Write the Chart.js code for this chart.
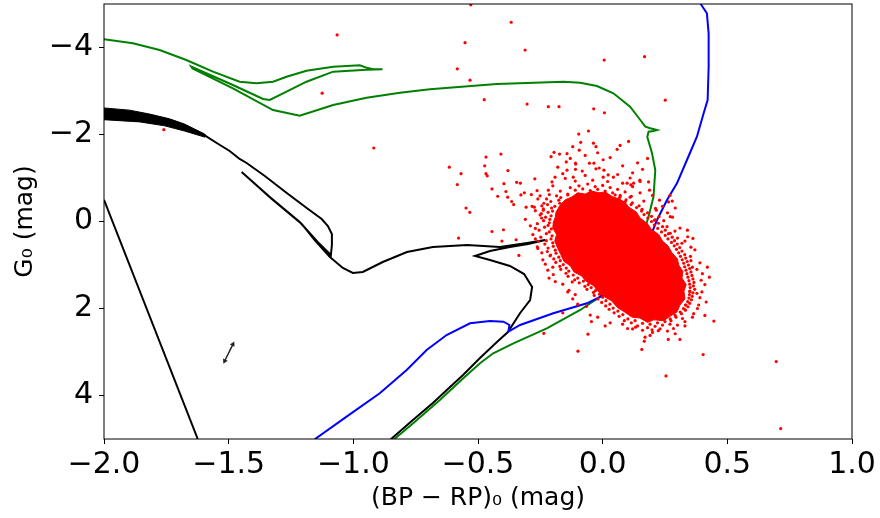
<!DOCTYPE html>
<html><head><meta charset="utf-8">
<script src="https://cdn.jsdelivr.net/npm/chart.js@4/dist/chart.umd.min.js"></script>
<style>html,body{margin:0;padding:0;background:#fff}canvas{display:block}</style>
</head><body>
<canvas id="c" width="880" height="518"></canvas>
<script>
const xTicks = [-2.0, -1.5, -1.0, -0.5, 0.0, 0.5, 1.0];
const yTicks = [-4, -2, 0, 2, 4];

// isolated stars (colour, magnitude)
const outlierStars = [
[-0.529,-4.98],[-0.367,-4.58],[-0.552,-4.11],[-0.311,-3.94],[0.006,-3.71],[0.168,-3.79],[-0.583,-3.51],[-0.532,-3.25],
[-0.475,-2.80],[-0.303,-2.70],[-0.218,-2.64],[-0.175,-2.64],[-0.036,-2.59],[0.007,-2.50],[0.251,-2.79],[-0.096,-2.01],[-0.057,-2.08],
[-1.065,-4.29],[-1.125,-2.95],[-1.760,-2.11],[-0.918,-1.69],
[-0.615,-1.25],[-0.568,-1.10],[-0.583,-0.85],[-0.468,-1.48],[-0.473,-1.28],[-0.468,-1.10],[-0.463,-1.05],[-0.408,-1.55],[-0.380,-1.17],
[-0.396,-0.87],[-0.444,-0.75],[-0.421,-0.58],[-0.388,-0.69],[-0.381,-0.56],[-0.365,-0.46],[-0.357,-0.39],[-0.345,-0.90],[-0.330,-0.88],
[-0.328,-0.61],[-0.314,-0.66],[-0.286,-0.62],[-0.272,-0.98],[-0.263,-0.71],[-0.251,-0.59],[-0.307,-0.33],[-0.274,-0.33],[-0.548,-0.31],
[-0.533,-0.21],[-0.444,0.23],[-0.398,0.19],[-0.578,0.38],[-0.404,0.45],[-0.347,0.42],[-0.336,0.78],[-0.211,0.79],[-0.207,-1.49],
[-0.195,-1.59],[-0.173,-1.55],[-0.143,-1.56],[-0.146,-1.37],[-0.088,-1.82],[-0.094,-1.64],[-0.108,-1.32],[-0.109,-1.20],[-0.218,-0.72],
[-0.214,-0.62],[-0.244,-0.36],[-0.238,-0.26],[-0.251,-0.15],
[-0.037,-1.80],[-0.027,-1.72],[0.104,-1.84],[0.058,-1.66],[0.140,-1.35],[0.002,-1.42],[-0.053,-1.34],[-0.035,-1.34],[-0.027,-1.21],
[0.005,-1.18],[-0.109,-1.34],[0.184,-0.91],[0.149,-0.95],[0.043,-1.02],[0.124,-0.88],[0.113,-0.84],[0.228,-0.49],[0.279,-0.47],
[0.291,-0.31],[0.264,-0.45],[0.212,-0.30],[0.226,-0.11],[0.208,-0.03],[0.271,-0.11],[0.258,0.12],[0.271,0.27],[0.341,0.35],[0.362,0.39],
[-0.143,-1.18],[-0.082,-1.16],[-0.118,-1.02],[-0.014,-1.23],[0.002,-1.02],[0.022,-1.07],[0.098,-0.88],[-0.191,-1.02],[-0.203,-0.91],
[0.354,0.59],[0.354,0.90],[0.428,1.28],[0.378,1.65],[0.410,2.16],[0.446,2.29],[0.403,3.06],[0.310,2.71],[0.263,2.71],[0.170,2.66],
[0.167,2.75],[0.157,2.94],[-0.059,2.59],[-0.099,2.98],[-0.122,1.39],[-0.160,2.10],[0.100,2.46],[0.132,2.43],[0.198,2.49],[0.223,2.51],
[0.284,2.46],[0.291,2.58],[0.331,2.03],[0.320,2.23],[0.332,1.92],[0.318,1.73],[0.349,1.61],[-0.236,2.57],[0.696,3.22],[0.714,4.76],[0.254,3.55],
[-0.18,-1.25],[-0.13,-1.45],[-0.07,-1.52],[-0.02,-1.58],[0.03,-1.47],[0.08,-1.28],[0.12,-1.12],[0.16,-1.20],[-0.16,-1.10],[0.07,-1.75],
[-0.12,-1.72],[0.18,-1.45]
];

// stars around the edge of the dense clump
const clumpStars = [
[-0.140,-0.61],[-0.168,-0.55],[-0.185,-0.59],[-0.176,-0.49],[-0.208,-0.46],[-0.172,-0.42],[-0.221,-0.39],[-0.192,-0.35],[-0.205,-0.31],
[-0.238,-0.29],[-0.201,-0.24],[-0.219,-0.21],[-0.246,-0.18],[-0.207,-0.13],[-0.229,-0.10],[-0.212,-0.05],[-0.237,-0.02],[-0.214,0.03],
[-0.262,0.05],[-0.219,0.09],[-0.233,0.13],[-0.206,0.17],[-0.255,0.20],[-0.214,0.24],[-0.226,0.28],[-0.203,0.33],[-0.248,0.36],
[-0.207,0.40],[-0.226,0.44],[-0.200,0.49],[-0.232,0.52],[-0.198,0.57],[-0.219,0.61],[-0.190,0.66],[-0.222,0.69],[-0.187,0.73],
[-0.209,0.77],[-0.176,0.82],[-0.196,0.86],[-0.170,0.90],[-0.188,0.94],[-0.158,0.99],[-0.172,1.03],[-0.146,1.07],[-0.168,1.10],
[-0.136,1.14],[-0.147,1.19],[-0.118,1.23],[-0.139,1.26],[-0.100,1.30],[-0.112,1.34],[-0.077,1.37],[-0.094,1.41],[-0.058,1.45],
[-0.071,1.49],[-0.046,1.52],[-0.063,1.56],[-0.029,1.59],[-0.037,1.63],[-0.013,1.67],[-0.034,1.70],[0.000,1.74],[-0.019,1.78],
[0.013,1.82],[-0.004,1.86],[0.029,1.90],[0.012,1.94],[0.042,1.99],[0.026,2.02],[0.061,2.06],[0.046,2.10],[0.081,2.14],[0.066,2.18],
[0.101,2.24],[0.087,2.28],
[0.050,-0.61],[0.070,-0.57],[0.066,-0.53],[0.094,-0.50],[0.091,-0.46],[0.119,-0.43],[0.114,-0.39],[0.146,-0.36],[0.136,-0.32],
[0.158,-0.28],[0.156,-0.24],[0.180,-0.20],[0.166,-0.16],[0.196,-0.12],[0.181,-0.08],[0.211,-0.04],[0.196,0.00],[0.224,0.04],
[0.207,0.08],[0.240,0.12],[0.221,0.16],[0.251,0.20],[0.236,0.24],[0.264,0.28],[0.251,0.32],[0.279,0.36],[0.262,0.40],[0.288,0.44],
[0.276,0.48],[0.299,0.52],[0.287,0.56],[0.309,0.60],[0.296,0.64],[0.318,0.68],[0.305,0.72],[0.329,0.76],[0.312,0.80],[0.333,0.84],
[0.319,0.88],[0.339,0.92],[0.325,0.96],[0.344,1.00],[0.329,1.04],[0.349,1.08],[0.334,1.12],[0.354,1.16],[0.338,1.20],[0.358,1.24],
[0.342,1.28],[0.362,1.32],[0.346,1.36],[0.366,1.40],[0.349,1.44],[0.364,1.48],[0.351,1.52],[0.369,1.56],[0.350,1.60],[0.362,1.64],
[0.348,1.68],[0.359,1.72],[0.346,1.76],[0.356,1.80],[0.341,1.84],[0.349,1.88],[0.334,1.92],[0.342,1.96],[0.324,2.00],[0.332,2.04],
[0.311,2.08],[0.316,2.12],[0.291,2.16],[0.294,2.20],[0.271,2.24],[0.274,2.28],
[-0.110,-0.72],[-0.080,-0.75],[-0.050,-0.71],[-0.020,-0.74],[0.010,-0.70],[0.040,-0.66],[0.070,-0.60],[-0.140,-0.63],[-0.095,-0.82],
[-0.060,-0.86],[-0.030,-0.80],[0.000,-0.83],[0.030,-0.78],[0.060,-0.74],[0.090,-0.68],[0.110,-0.56],[-0.130,-0.78],[-0.170,-0.70],
[0.120,-0.80],[0.150,-0.66],[-0.200,-0.82],[-0.110,-0.93],[-0.040,-0.95],[0.020,-0.92],[0.080,-0.88],[0.150,-0.92],[-0.150,-0.99],
[-0.070,-1.06],[0.060,-1.08],[0.110,-1.00],
[0.130,2.28],[0.160,2.34],[0.190,2.36],[0.220,2.33],[0.250,2.30],[0.140,2.40],[0.180,2.44],[0.210,2.41],[0.240,2.38],[0.270,2.36],
[0.115,2.33],[0.160,2.50],[0.230,2.47],[0.200,2.55],[0.120,2.47],[0.260,2.52],[0.300,2.38],[0.080,2.36],[0.190,2.62],
[-0.26,-0.52],[-0.27,-0.25],[-0.29,0.10],[-0.27,0.40],[-0.26,0.62],[-0.24,0.88],[-0.22,1.12],[-0.19,1.38],[-0.14,1.62],[-0.10,1.90],
[-0.05,2.15],[0.01,2.40],[-0.31,-0.05],[-0.28,0.30],[-0.20,1.05],[-0.12,1.78],
[0.20,-0.60],[0.24,-0.35],[0.28,-0.10],[0.31,0.15],[0.33,0.45],[0.37,0.65],[0.39,0.95],[0.40,1.20],[0.41,1.45],[0.39,1.75],
[0.38,2.00],[0.36,2.20],[0.33,2.40],[0.26,-0.20],[0.30,0.38],[0.36,1.05],
[-0.225,-0.52],[-0.245,-0.08],[-0.270,0.16],[-0.258,0.46],[-0.244,0.72],[-0.230,0.98],[-0.198,1.22],[-0.160,1.44],[-0.110,1.68],
[-0.065,1.95],[-0.020,2.20],[-0.236,-0.42],[-0.283,-0.35],[-0.262,0.58],[-0.215,1.30],[-0.135,1.58],[-0.045,2.30],[0.030,2.33],
[0.115,-0.58],[0.165,-0.47],[0.215,-0.26],[0.245,-0.02],[0.290,0.22],[0.318,0.50],[0.352,0.80],[0.378,1.10],[0.395,1.35],
[0.398,1.62],[0.385,1.92],[0.365,2.12],[0.330,2.30],[0.188,-0.72],[0.270,-0.60],[0.340,0.20],[0.420,1.05],[0.415,1.85]
];

// outline of the fully saturated core of the clump
const clumpCore = [
[-0.187,-0.22],[-0.170,-0.38],[-0.150,-0.50],[-0.125,-0.56],[-0.100,-0.66],[-0.070,-0.63],[-0.045,-0.70],[-0.015,-0.66],[0.010,-0.68],
[0.040,-0.57],[0.065,-0.52],[0.090,-0.44],[0.105,-0.33],[0.135,-0.22],[0.150,-0.08],[0.180,0.05],[0.195,0.18],[0.225,0.30],
[0.240,0.45],[0.262,0.56],[0.278,0.72],[0.300,0.86],[0.305,1.00],[0.322,1.15],[0.318,1.30],[0.335,1.45],[0.326,1.60],[0.330,1.78],
[0.310,1.92],[0.298,2.08],[0.270,2.18],[0.245,2.28],[0.205,2.26],[0.180,2.32],[0.150,2.22],[0.118,2.20],[0.085,2.07],[0.060,1.98],
[0.035,1.82],[0.010,1.74],[-0.020,1.60],[-0.035,1.48],[-0.065,1.38],[-0.085,1.25],[-0.115,1.16],[-0.130,1.02],[-0.155,0.92],
[-0.168,0.76],[-0.180,0.62],[-0.192,0.45],[-0.185,0.30],[-0.200,0.15],[-0.198,0.02],[-0.190,-0.10],[-0.187,-0.22]
];

const blackStraight = [[-2.0,-0.50],[-1.624,5.0]];
const blackBand = [[-2.0,-2.61],[-1.898,-2.56],[-1.817,-2.47],[-1.737,-2.36],[-1.677,-2.24],[-1.596,-2.01],[-1.596,-1.94],
[-1.677,-2.08],[-1.757,-2.20],[-1.857,-2.29],[-2.0,-2.34],[-2.0,-2.61]];
const blackTrack = [
[-1.596,-1.98],[-1.548,-1.805],[-1.496,-1.621],[-1.456,-1.437],[-1.428,-1.345],[-1.355,-1.046],[-1.267,-0.655],[-1.187,-0.310],
[-1.127,-0.057],[-1.102,0.103],[-1.086,0.287],[-1.086,0.540],[-1.090,0.770],
[-1.143,0.471],[-1.215,0.011],[-1.335,-0.563],[-1.448,-1.138],
[-1.327,-0.517],[-1.207,0.057],[-1.155,0.425],[-1.094,0.816],[-1.042,1.069],[-1.002,1.184],[-0.962,1.161],[-0.882,0.931],
[-0.785,0.701],[-0.681,0.586],[-0.544,0.540],[-0.412,0.586],[-0.303,0.494],[-0.231,0.425],
[-0.299,0.517],[-0.372,0.586],[-0.452,0.678],[-0.512,0.793],
[-0.452,0.885],[-0.372,1.023],[-0.315,1.207],[-0.283,1.506],[-0.291,1.805],[-0.331,2.103],[-0.380,2.540],[-0.424,2.770],
[-0.492,3.138],[-0.560,3.529],[-0.625,3.874],[-0.681,4.172],[-0.761,4.563],[-0.853,5.023]
];
const greenTrack = [
[-2.000,-4.189],[-1.884,-4.097],[-1.777,-3.943],[-1.670,-3.713],[-1.563,-3.444],[-1.456,-3.214],[-1.389,-3.177],[-1.322,-3.214],
[-1.268,-3.329],[-1.188,-3.467],[-1.081,-3.559],[-0.974,-3.591],[-0.947,-3.536],[-0.920,-3.499],[-0.883,-3.499],
[-0.947,-3.487],[-1.081,-3.444],[-1.188,-3.214],[-1.268,-2.984],[-1.335,-2.793],[-1.362,-2.816],[-1.483,-3.138],[-1.650,-3.559],
[-1.645,-3.517],[-1.483,-3.062],[-1.322,-2.563],[-1.215,-2.432],[-1.081,-2.678],[-0.947,-2.846],[-0.813,-2.961],[-0.693,-3.039],
[-0.425,-3.161],[-0.157,-3.214],[-0.090,-3.191],[-0.023,-3.115],[0.043,-2.947],[0.110,-2.639],[0.151,-2.333],
[0.171,-2.179],[0.191,-2.143],[0.218,-2.103],[0.204,-2.080],[0.184,-2.064],[0.179,-1.943],
[0.198,-1.568],[0.211,-1.184],[0.204,-0.570],[0.184,-0.110],[0.151,0.501],[0.097,1.039],[0.043,1.421],[-0.010,1.729],
[-0.090,2.034],[-0.224,2.455],[-0.358,2.800],[-0.439,3.030],[-0.492,3.260],[-0.559,3.605],[-0.653,4.103],[-0.760,4.639],[-0.840,5.023]
];
const blueTrack = [
[0.388,-5.046],[0.418,-4.786],[0.425,-4.326],[0.425,-3.559],[0.421,-2.793],[0.405,-2.487],[0.378,-1.949],[0.338,-1.414],
[0.298,-0.878],[0.258,-0.494],[0.218,-0.034],[0.191,0.349],[0.137,0.885],[0.070,1.421],[0.017,1.651],[-0.063,1.880],
[-0.198,2.110],[-0.331,2.379],[-0.378,2.533],[-0.374,2.379],[-0.398,2.303],[-0.452,2.287],[-0.532,2.340],[-0.626,2.609],
[-0.706,2.954],[-0.786,3.414],[-0.894,3.949],[-1.027,4.487],[-1.155,5.007]
];
const reddeningArrow = [[-1.516,3.207],[-1.483,2.823]];

const xy = a => a.map(p => ({x: p[0], y: p[1]}));
const minus = s => String(s).replace('-', '\u2212');

const curve = (data, color, extra) => Object.assign({
  data: xy(data), showLine: true, borderColor: color, backgroundColor: color,
  borderWidth: 2, pointRadius: 0, pointHoverRadius: 0, tension: 0, fill: false
}, extra || {});

const framePlugin = {
  id: 'frame',
  afterDatasetsDraw(chart) {
    const {ctx, chartArea: {left, top, right, bottom}} = chart;
    ctx.save();
    ctx.strokeStyle = '#000';
    ctx.lineWidth = 1;
    ctx.strokeRect(left, top, right - left, bottom - top);
    ctx.restore();
  }
};

new Chart(document.getElementById('c'), {
  type: 'scatter',
  data: {
    datasets: [
      {data: xy(outlierStars), backgroundColor: '#ff0000', pointRadius: 1.6, pointBorderWidth: 0, pointHoverRadius: 1.6},
      {data: xy(clumpStars), backgroundColor: '#ff0000', pointRadius: 1.6, pointBorderWidth: 0, pointHoverRadius: 1.6},
      curve(clumpCore, '#ff0000', {fill: 'shape', borderWidth: 1}),
      curve(reddeningArrow, '#222222', {borderWidth: 1.5, pointRadius: 3, pointStyle: 'triangle', pointRotation: [206, 26], pointBackgroundColor: '#222222', pointBorderWidth: 0}),
      curve(blueTrack, '#0000ff'),
      curve(greenTrack, '#008000'),
      curve(blackTrack, '#000000'),
      curve(blackBand, '#000000', {fill: 'shape', borderWidth: 1}),
      curve(blackStraight, '#000000')
    ]
  },
  options: {
    responsive: false,
    animation: false,
    events: [],
    layout: {padding: {left: 0, right: 28, top: 4, bottom: 0}},
    plugins: {legend: {display: false}, tooltip: {enabled: false}},
    scales: {
      x: {
        type: 'linear', min: -2, max: 1,
        afterBuildTicks: axis => { axis.ticks = xTicks.map(v => ({value: v})); },
        afterFit: axis => { axis.height = 79; axis.paddingLeft = 0; axis.paddingRight = 0; },
        ticks: {color: '#000', font: {family: 'DejaVu Sans', size: 30}, padding: 3, maxRotation: 0,
                callback: v => minus(Number(v).toFixed(1))},
        grid: {display: true, drawOnChartArea: false, drawTicks: true, tickLength: 5, color: '#000', lineWidth: 1},
        border: {display: false},
        title: {display: true, text: '(BP \u2212 RP)\u2080 (mag)', color: '#000',
                font: {family: 'DejaVu Sans', size: 25}, padding: {top: 0, bottom: 5}}
      },
      y: {
        type: 'linear', min: -5, max: 5, reverse: true,
        afterBuildTicks: axis => { axis.ticks = yTicks.map(v => ({value: v})); },
        afterFit: axis => { axis.width = 104; axis.paddingTop = 0; axis.paddingBottom = 0; },
        ticks: {color: '#000', font: {family: 'DejaVu Sans', size: 30}, padding: 6,
                callback: v => minus(v)},
        grid: {display: true, drawOnChartArea: false, drawTicks: true, tickLength: 5, color: '#000', lineWidth: 1},
        border: {display: false},
        title: {display: true, text: 'G\u2080 (mag)', color: '#000',
                font: {family: 'DejaVu Sans', size: 25}, padding: {top: 10, bottom: 0}}
      }
    }
  },
  plugins: [framePlugin]
});
</script></body></html>
